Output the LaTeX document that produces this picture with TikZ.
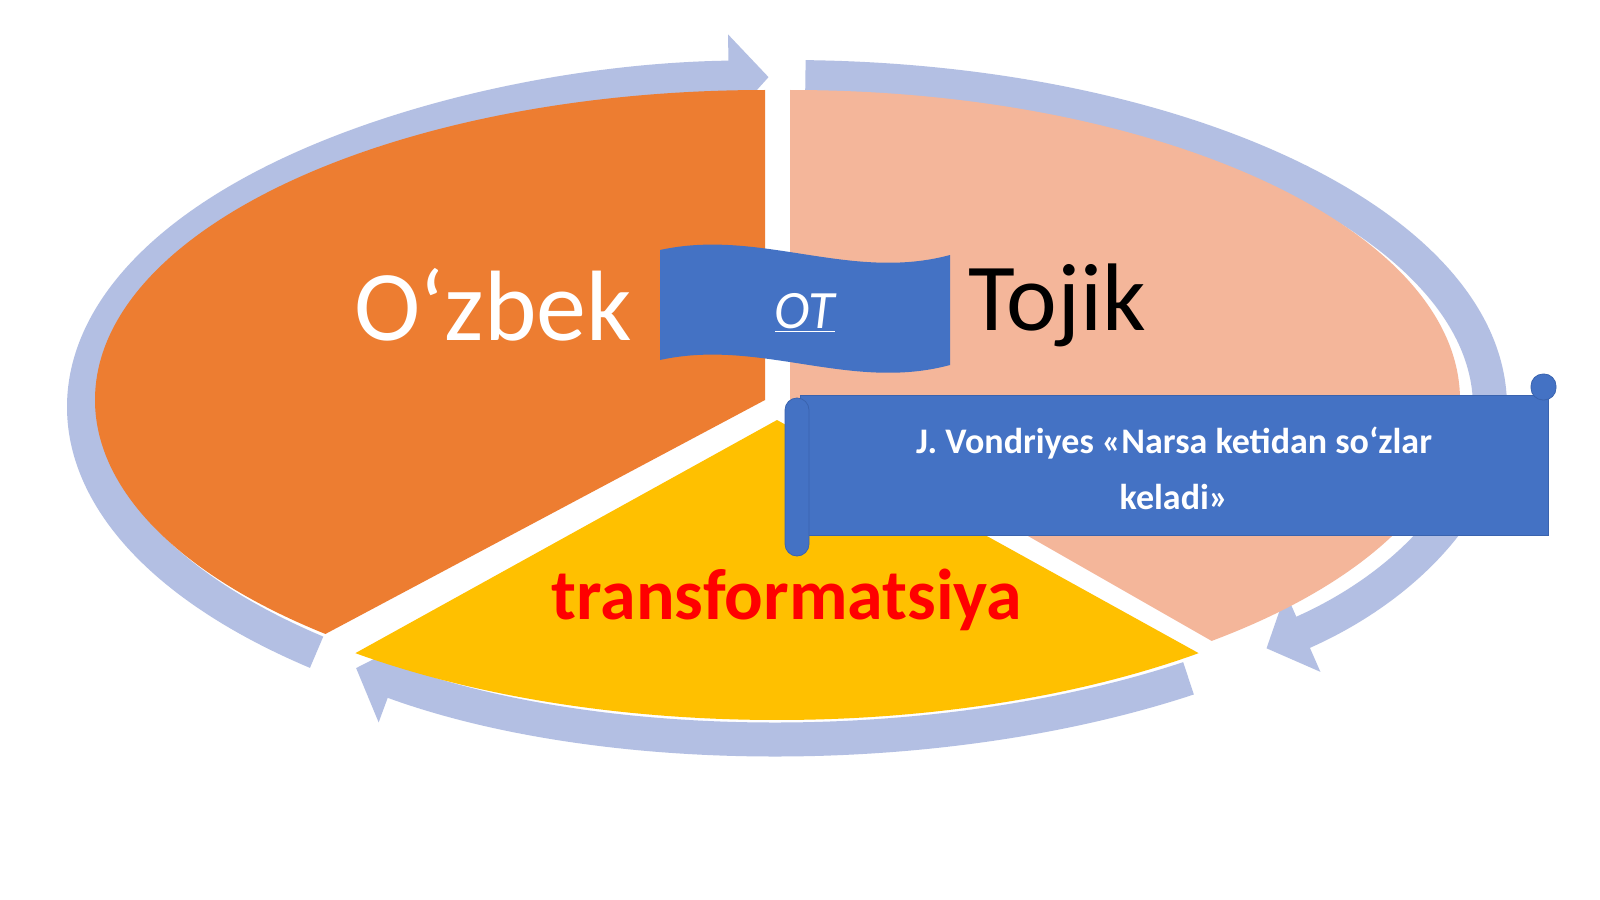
\documentclass[tikz,border=0pt]{standalone}
\usepackage{fontspec}
\setmainfont{Carlito}
\usetikzlibrary{arrows.meta}
\definecolor{ringc}{HTML}{B3BFE3}
\definecolor{orng}{HTML}{ED7D31}
\definecolor{peach}{HTML}{F4B69A}
\definecolor{yel}{HTML}{FFC000}
\definecolor{blu}{HTML}{4472C4}
\definecolor{bluedk}{HTML}{3A63AE}
\tikzset{ringarrow/.style={draw=ringc,line width=17pt,-{Triangle[width=42pt,length=20pt]}},
 lbl/.style={inner sep=0pt}}
\begin{document}
\begin{tikzpicture}[x=0.5pt,y=-0.5pt]
\useasboundingbox[fill=white] (0,0) rectangle (1600,899);
% ring arrows
\draw[ringarrow] ([shift={(132:703 and 330)}]787,407) arc[start angle=132,end angle=268.5,x radius=703,y radius=330];
\draw[ringarrow] ([shift={(271.5:703 and 330)}]787,407) arc[start angle=271.5,end angle=407,x radius=703,y radius=330];
\draw[ringarrow] ([shift={(55:700 and 330)}]787,408) arc[start angle=55,end angle=128,x radius=700,y radius=330];
% sectors
\fill[orng] (765,400) -- (765,90) arc[start angle=-90,end angle=-229,x radius=670,y radius=310] -- cycle;
\fill[peach] (790,400) -- (790,90) arc[start angle=-90,end angle=51,x radius=670,y radius=310] -- cycle;
\fill[yel] (777,420) -- ([shift={(129:670 and 300)}]777,420) arc[start angle=129,end angle=51,x radius=670,y radius=300] -- cycle;
% texts
\node[lbl,text=white,font=\fontsize{50}{58}\selectfont] (uz) at (493,305) {O‘zbek};
\node[lbl,text=black,font=\fontsize{48}{56}\selectfont] (tj) at (1057,305) {Tojik};
\node[lbl,text=red,font=\bfseries\fontsize{36}{42}\selectfont] (tr) at (787,600) {transformatsiya};
% flag
\fill[blu] (660,250) .. controls (760,228) and (850,282) .. (950,255) -- (950,365) .. controls (850,392) and (760,338) .. (660,360) -- cycle;
\node[lbl,text=white,font=\itshape\fontsize{27}{32}\selectfont] (ot) at (805,313) {\underline{OT}};
% scroll
\fill[blu,draw=bluedk] (800,395) rectangle (1548,535);
\fill[blu,draw=bluedk,rounded corners=6pt] (785,398) rectangle (809,556);
\fill[blu,draw=bluedk,rounded corners=6pt] (1531,374) rectangle (1556,400);
\node[lbl,text=white,font=\bfseries\fontsize{18}{28}\selectfont,align=center] (vq) at (1174,468) {J. Vondriyes «Narsa ketidan so‘zlar\\keladi»};
\end{tikzpicture}
\end{document}
